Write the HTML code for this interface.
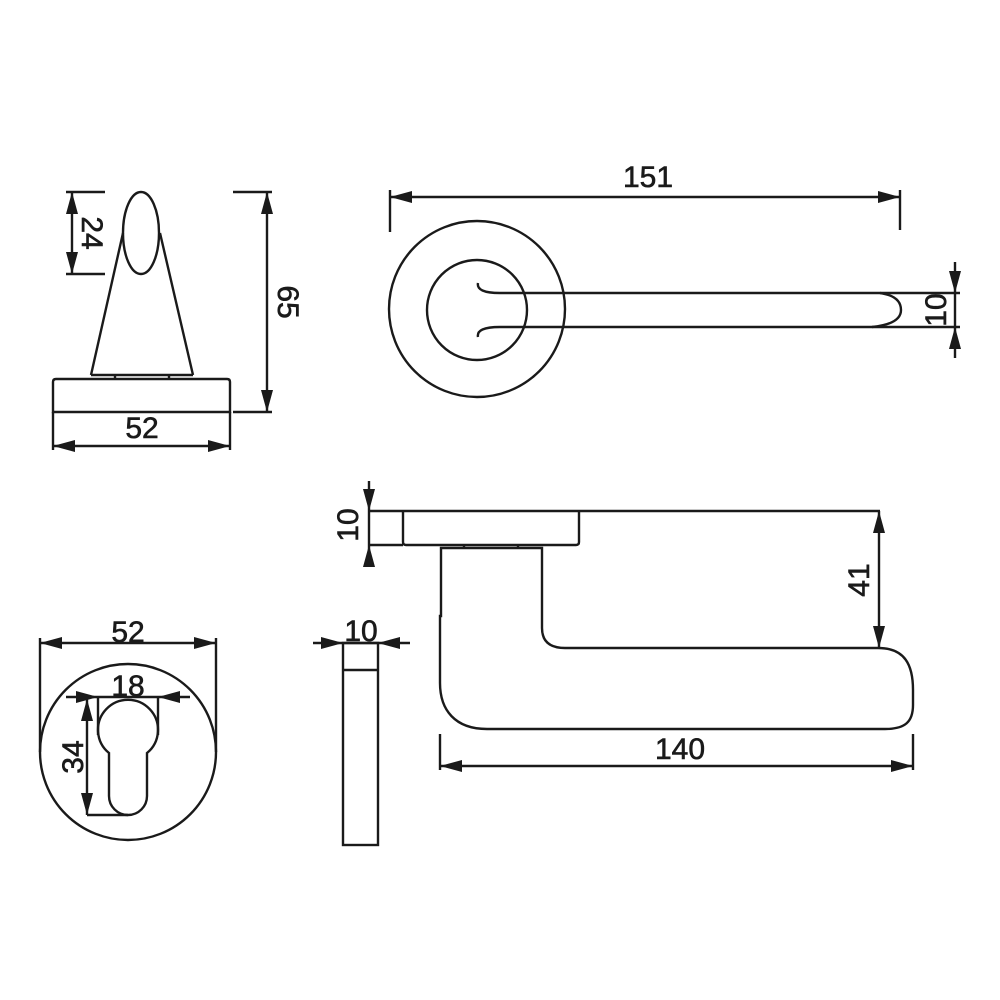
<!DOCTYPE html>
<html><head><meta charset="utf-8"><style>
html,body{margin:0;padding:0;background:#fff}
svg{display:block}
text{font-family:"Liberation Sans",Arial,sans-serif;font-size:30px;fill:#1a1a1a;stroke:#1a1a1a;stroke-width:0.6;text-anchor:middle}
</style></head><body>
<svg width="1000" height="1000" viewBox="0 0 1000 1000" xmlns="http://www.w3.org/2000/svg">
<rect width="1000" height="1000" fill="#fff"/>
<g fill="none" stroke="#1a1a1a" stroke-width="2.4">
<ellipse cx="141" cy="233" rx="18" ry="41"/>
<line x1="123" y1="233" x2="91" y2="375"/>
<line x1="160" y1="233" x2="193" y2="375"/>
<line x1="91" y1="375" x2="193" y2="375"/>
<line x1="115" y1="375" x2="115" y2="379"/>
<line x1="169" y1="375" x2="169" y2="379"/>
<path d="M53,412 L53,382 Q53,379 56,379 L227,379 Q230,379 230,382 L230,412 Z"/>
<line x1="53" y1="412" x2="53" y2="450"/>
<line x1="230" y1="412" x2="230" y2="450"/>
<line x1="53" y1="446" x2="230" y2="446"/>
<line x1="72" y1="192" x2="72" y2="274"/>
<line x1="66" y1="192" x2="105" y2="192"/>
<line x1="66" y1="274" x2="105" y2="274"/>
<line x1="267" y1="192" x2="267" y2="412"/>
<line x1="233" y1="192" x2="272" y2="192"/>
<line x1="233" y1="412" x2="272" y2="412"/>
<circle cx="477" cy="309" r="88"/>
<circle cx="477" cy="310" r="50"/>
<path d="M478,283 Q476,293 500,293 L880,293"/>
<path d="M478,337 Q476,327 500,327 L872,327"/>
<path d="M880,293 Q901,296 901,310 Q901,324 872,327"/>
<line x1="880" y1="293" x2="960" y2="293"/>
<line x1="872" y1="327" x2="960" y2="327"/>
<line x1="955" y1="262" x2="955" y2="358"/>
<line x1="390" y1="197" x2="900" y2="197"/>
<line x1="390" y1="190" x2="390" y2="232"/>
<line x1="900" y1="190" x2="900" y2="230"/>
<line x1="369" y1="511" x2="880" y2="511"/>
<line x1="369" y1="545" x2="403" y2="545"/>
<path d="M403,511 L403,542 Q403,545 406,545 L576,545 Q579,545 579,542 L579,511"/>
<line x1="369" y1="481" x2="369" y2="567"/>
<line x1="464" y1="545" x2="464" y2="548"/>
<line x1="518" y1="545" x2="518" y2="548"/>
<path d="M441,616 L441,548 L542,548 L542,628 Q542,648 565,648 L878,648 C905,648 913,665 913,690 L913,705 C913,722 905,729 885,729 L487,729 C455,729 440,710 440,683 L440,616 Z"/>
<line x1="879" y1="511" x2="879" y2="648"/>
<line x1="440" y1="734" x2="440" y2="770"/>
<line x1="913" y1="734" x2="913" y2="770"/>
<line x1="440" y1="766" x2="913" y2="766"/>
<rect x="343" y="643" width="35" height="202"/>
<line x1="343" y1="670" x2="378" y2="670"/>
<line x1="313" y1="643" x2="410" y2="643"/>
<circle cx="128" cy="752" r="88"/>
<line x1="40" y1="643" x2="216" y2="643"/>
<line x1="40" y1="638" x2="40" y2="752"/>
<line x1="216" y1="638" x2="216" y2="752"/>
<path d="M109,753 A30,30 0 1 1 147,753 L147,796 A19,19 0 0 1 109,796 Z"/>
<line x1="66" y1="697" x2="190" y2="697"/>
<line x1="98" y1="697" x2="98" y2="735"/>
<line x1="158" y1="697" x2="158" y2="735"/>
<line x1="87" y1="699" x2="87" y2="815"/>
<line x1="87" y1="815" x2="128" y2="815"/>
</g>
<g fill="#1a1a1a">
<polygon points="72,192 66,214 78,214"/>
<polygon points="72,274 66,252 78,252"/>
<polygon points="267,192 261,214 273,214"/>
<polygon points="267,412 261,390 273,390"/>
<polygon points="53,446 75,440 75,452"/>
<polygon points="230,446 208,440 208,452"/>
<polygon points="390,197 412,191 412,203"/>
<polygon points="900,197 878,191 878,203"/>
<polygon points="955,293 949,271 961,271"/>
<polygon points="955,327 949,349 961,349"/>
<polygon points="369,511 363,489 375,489"/>
<polygon points="369,545 363,567 375,567"/>
<polygon points="879,511 873,533 885,533"/>
<polygon points="879,648 873,626 885,626"/>
<polygon points="440,766 462,760 462,772"/>
<polygon points="913,766 891,760 891,772"/>
<polygon points="343,643 321,637 321,649"/>
<polygon points="378,643 400,637 400,649"/>
<polygon points="40,643 62,637 62,649"/>
<polygon points="216,643 194,637 194,649"/>
<polygon points="98,697 76,691 76,703"/>
<polygon points="158,697 180,691 180,703"/>
<polygon points="87,699 81,721 93,721"/>
<polygon points="87,815 81,793 93,793"/>
</g>
<text x="142" y="438">52</text>
<text transform="translate(82,233) rotate(90)">24</text>
<text transform="translate(278,302) rotate(90)">65</text>
<text x="648" y="187">151</text>
<text transform="translate(946,310) rotate(-90)">10</text>
<text transform="translate(358,525) rotate(-90)">10</text>
<text transform="translate(869,580) rotate(-90)">41</text>
<text x="680" y="759">140</text>
<text x="361" y="641">10</text>
<text x="128" y="642">52</text>
<text x="128" y="696">18</text>
<text transform="translate(83,757) rotate(-90)">34</text>
</svg>
</body></html>
